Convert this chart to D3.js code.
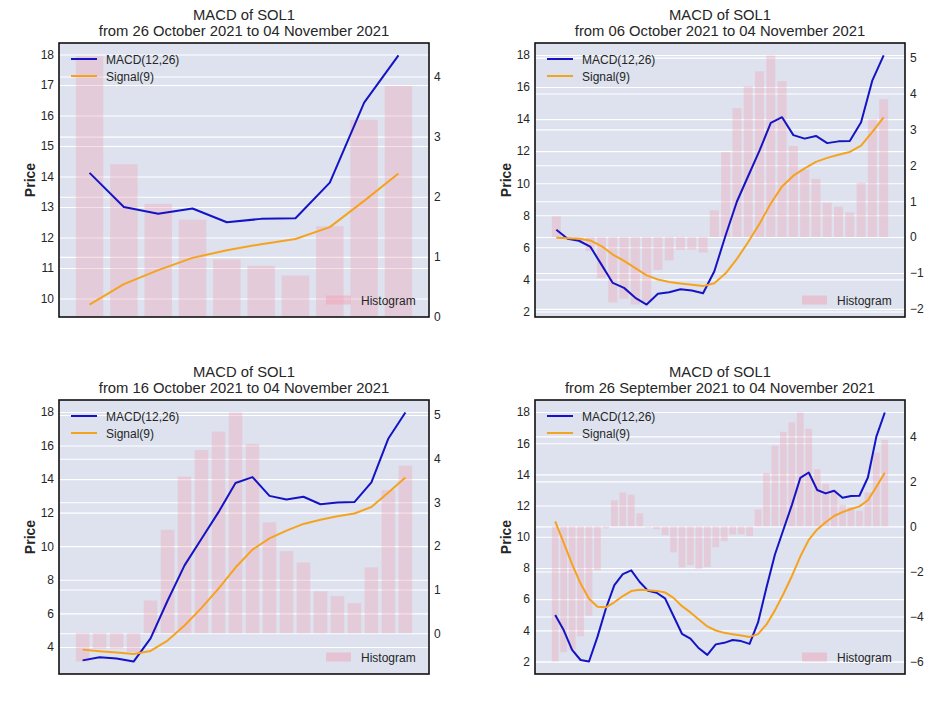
<!DOCTYPE html>
<html><head><meta charset="utf-8">
<script src="https://cdn.jsdelivr.net/npm/d3@7"></script>
<style>
body{margin:0;background:#fff}
svg{display:block}
text{font-family:"Liberation Sans",Arial,sans-serif;fill:#262626}
</style>
</head><body>
<svg id="c" width="952" height="714"></svg>
<script>
// ---- data: one daily series, 26 Sep 2021 .. 04 Nov 2021 (40 days) ----
const firstDay = new Date(2021, 8, 26);
const dates = d3.timeDay.range(firstDay, d3.timeDay.offset(firstDay, 40));

const macd = [4.98, 4.02, 2.75, 2.10, 2.00, 3.58, 5.40, 6.90, 7.60, 7.85,
              7.10, 6.53, 6.41, 6.05, 4.92, 3.78, 3.47, 2.85, 2.43, 3.10,
              3.20, 3.38, 3.31, 3.13, 4.51, 6.75, 8.86, 10.45, 12.03, 13.77,
              14.12, 13.00, 12.78, 12.95, 12.50, 12.61, 12.63, 13.80, 16.42, 17.97];
const signal = [10.98, 9.62, 8.25, 7.00, 6.02, 5.52, 5.48, 5.80, 6.20, 6.52,
                6.60, 6.57, 6.53, 6.43, 6.08, 5.55, 5.15, 4.70, 4.25, 3.99,
                3.84, 3.75, 3.67, 3.58, 3.76, 4.38, 5.28, 6.33, 7.47, 8.73,
                9.80, 10.47, 10.93, 11.33, 11.58, 11.78, 11.95, 12.34, 13.20, 14.10];
const histogram = [-6.00, -5.58, -5.48, -4.88, -3.96, -1.94, -0.09, 1.16, 1.51, 1.41,
                   0.58, -0.04, -0.12, -0.39, -1.15, -1.82, -1.72, -1.88, -1.80, -0.92,
                   -0.65, -0.36, -0.35, -0.43, 0.75, 2.37, 3.59, 4.20, 4.62, 5.06,
                   4.34, 2.54, 1.88, 1.62, 0.96, 0.85, 0.69, 1.51, 3.28, 3.84];

// panels: first day index shown (order: top-left, top-right, bottom-left, bottom-right)
const panelStart = [30, 10, 20, 0];
const leftTicks = [
  [10, 11, 12, 13, 14, 15, 16, 17, 18],
  [2, 4, 6, 8, 10, 12, 14, 16, 18],
  [4, 6, 8, 10, 12, 14, 16, 18],
  [2, 4, 6, 8, 10, 12, 14, 16, 18]
];
const rightTicks = [
  [0, 1, 2, 3, 4],
  [-2, -1, 0, 1, 2, 3, 4, 5],
  [0, 1, 2, 3, 4, 5],
  [-6, -4, -2, 0, 2, 4]
];
const seriesNames = ["MACD(12,26)", "Signal(9)", "Histogram"];

// ---- layout / style ----
const panelX = [59, 535, 59, 535];
const panelY = [43, 43, 400, 400];
const W = 370, H = 274;
const BG = "#dde2ee";
const MACD_COLOR = "#1414c4";
const SIGNAL_COLOR = "#f5a31e";
const BAR_COLOR = "#f0a3b8";
const fmtDate = d3.timeFormat("%d %B %Y");
const fmtTick = d3.format("d");

const svg = d3.select("#c");

panelStart.forEach((s, k) => {
  const n = dates.length - s;
  const m = macd.slice(s), sg = signal.slice(s), h = histogram.slice(s);
  const g = svg.append("g").attr("transform", `translate(${panelX[k]},${panelY[k]})`);

  const padX = 0.05 * (n - 0.2);
  const x = d3.scaleLinear().domain([-0.4 - padX, n - 0.6 + padX]).range([0, W]);

  const [lo, hi] = d3.extent(m.concat(sg));
  const pl = (hi - lo) * 0.05;
  const yL = d3.scaleLinear().domain([lo - pl, hi + pl]).range([H, 0]);

  const hmin = Math.min(0, d3.min(h)), hmax = Math.max(0, d3.max(h));
  const ph = (hmax - hmin) * 0.05;
  const yR = d3.scaleLinear()
    .domain([hmin === 0 ? 0 : hmin - ph, hmax === 0 ? 0 : hmax + ph])
    .range([H, 0]);

  // background
  g.append("rect").attr("width", W).attr("height", H).attr("fill", BG);

  // gridlines
  const gl = g.append("g").call(d3.axisLeft(yL).tickValues(leftTicks[k]).tickSize(-W).tickFormat(""));
  const gr = g.append("g").call(d3.axisLeft(yR).tickValues(rightTicks[k]).tickSize(-W).tickFormat(""));
  [gl, gr].forEach(a => {
    a.select(".domain").remove();
    a.selectAll("line").attr("stroke", "#fff").attr("stroke-width", 1.1);
  });

  // histogram bars
  const bw = x(0.8) - x(0);
  g.append("g").selectAll("rect").data(h).join("rect")
    .attr("x", (d, i) => x(i) - bw / 2)
    .attr("width", bw)
    .attr("y", d => yR(Math.max(0, d)))
    .attr("height", d => Math.abs(yR(d) - yR(0)))
    .attr("fill", BAR_COLOR).attr("fill-opacity", 0.36);

  // lines
  const line = d3.line().x((d, i) => x(i)).y(d => yL(d));
  g.append("path").datum(m).attr("d", line).attr("fill", "none")
    .attr("stroke", MACD_COLOR).attr("stroke-width", 2).attr("stroke-linejoin", "round");
  g.append("path").datum(sg).attr("d", line).attr("fill", "none")
    .attr("stroke", SIGNAL_COLOR).attr("stroke-width", 2).attr("stroke-linejoin", "round");

  // frame
  g.append("rect").attr("width", W).attr("height", H)
    .attr("fill", "none").attr("stroke", "#111").attr("stroke-width", 1.6);

  // axes labels
  const axL = g.append("g").call(d3.axisLeft(yL).tickValues(leftTicks[k]).tickFormat(fmtTick).tickSize(0).tickPadding(5));
  const axR = g.append("g").attr("transform", `translate(${W},0)`)
    .call(d3.axisRight(yR).tickValues(rightTicks[k]).tickFormat(fmtTick).tickSize(0).tickPadding(5));
  [axL, axR].forEach(a => {
    a.select(".domain").remove();
    a.selectAll("text").style("font-size", "12px").attr("fill", "#333")
      .style("font-family", '"Liberation Sans",Arial,sans-serif');
  });

  g.append("text").attr("transform", `translate(-24,${H / 2}) rotate(-90)`)
    .attr("text-anchor", "middle").style("font-size", "14px").style("font-weight", "bold")
    .text("Price");

  // title
  g.append("text").attr("x", W / 2).attr("y", -23).attr("text-anchor", "middle")
    .style("font-size", "14.8px").text("MACD of SOL1");
  g.append("text").attr("x", W / 2).attr("y", -7).attr("text-anchor", "middle")
    .style("font-size", "14.8px")
    .text(`from ${fmtDate(dates[s])} to ${fmtDate(dates[dates.length - 1])}`);

  // legend (lines)
  [[MACD_COLOR, seriesNames[0]], [SIGNAL_COLOR, seriesNames[1]]].forEach(([c, t], j) => {
    const yy = 16 + j * 17;
    g.append("line").attr("x1", 12).attr("x2", 38).attr("y1", yy).attr("y2", yy)
      .attr("stroke", c).attr("stroke-width", 2);
    g.append("text").attr("x", 47).attr("y", yy + 4.5).style("font-size", "12px").text(t);
  });
  // legend (histogram)
  g.append("rect").attr("x", W - 103).attr("y", H - 21.5).attr("width", 25).attr("height", 9)
    .attr("fill", BAR_COLOR).attr("fill-opacity", 0.5);
  g.append("text").attr("x", W - 68).attr("y", H - 12.5).style("font-size", "12px").text(seriesNames[2]);
});
</script>
</body></html>
